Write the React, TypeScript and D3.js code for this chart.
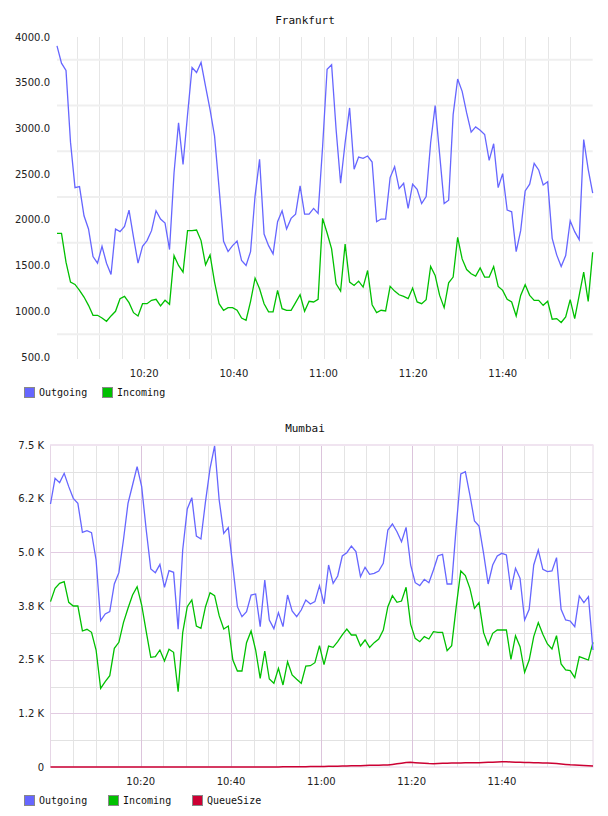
import React from 'react';
import * as d3 from 'd3';

const WIDTH = 608;
const HEIGHT = 816;

const outgoingColor = '#6666ff';
const incomingColor = '#00c000';
const queueColor = '#cc0033';

// labelled x ticks, shared by both panels
const timeLabels = ['10:20', '10:40', '11:00', '11:20', '11:40'];

// Frankfurt, one sample per minute
const frankfurtOutgoing = [
  3902, 3714, 3634, 2850, 2353, 2364, 2045, 1900, 1599, 1526,
  1711, 1526, 1403, 1900, 1871, 1929, 2107, 1809, 1526, 1711,
  1773, 1882, 2099, 2009, 1965, 1675, 2516, 3061, 2607, 3150,
  3667, 3612, 3721, 3460, 3206, 2916, 2350, 1765, 1653, 1718,
  1769, 1555, 1501, 1653, 2263, 2662, 1845, 1718, 1628, 1980,
  2099, 1900, 2016, 2063, 2371, 2063, 2063, 2125, 2070, 2800,
  3648, 3696, 2988, 2400, 2843, 3224, 2553, 2687, 2672, 2698,
  2633, 1980, 2009, 2009, 2462, 2582, 2342, 2400, 2125, 2390,
  2335, 2179, 2255, 2843, 3249, 2716, 2179, 2215, 3151, 3540,
  3405, 3170, 2959, 3017, 2981, 2934, 2651, 2832, 2353, 2506,
  2107, 2088, 1653, 1882, 2317, 2390, 2618, 2546, 2382, 2418,
  1798, 1617, 1490, 1610, 1990, 1871, 1784, 2879, 2553, 2292,
];
const frankfurtIncoming = [
  1853, 1853, 1537, 1319, 1294, 1229, 1156, 1065, 956, 956,
  927, 891, 949, 1000, 1138, 1163, 1094, 985, 949, 1083,
  1083, 1120, 1131, 1058, 1120, 1076, 1609, 1501, 1428, 1882,
  1882, 1889, 1773, 1508, 1617, 1319, 1083, 1011, 1040, 1040,
  1011, 927, 902, 1109, 1363, 1247, 1083, 993, 993, 1229,
  1029, 1011, 1011, 1094, 1181, 1000, 1109, 1102, 1131, 2016,
  1856, 1682, 1301, 1221, 1736, 1319, 1283, 1330, 1265, 1446,
  1072, 985, 1011, 1004, 1272, 1221, 1181, 1163, 1138, 1254,
  1102, 1083, 1127, 1490, 1392, 1174, 1040, 1312, 1374, 1809,
  1573, 1457, 1410, 1384, 1475, 1374, 1374, 1490, 1272, 1229,
  1131, 1102, 949, 1174, 1290, 1174, 1120, 1120, 1065, 1109,
  913, 920, 877, 938, 1127, 920, 1174, 1428, 1109, 1646,
];
const frankfurtTicks = [500, 1000, 1500, 2000, 2500, 3000, 3500, 4000];

// Mumbai
const mumbaiOutgoing = [
  6126, 6724, 6623, 6840, 6530, 6258, 6141, 5466, 5505, 5458,
  4822, 3409, 3564, 3618, 4262, 4526, 5287, 6141, 6568, 6995,
  6530, 5520, 4612, 4526, 4720, 4185, 4573, 4534, 3207, 5054,
  6009, 6273, 5380, 5311, 6180, 6957, 7477, 6219, 5443, 5575,
  4666, 3734, 3502, 3618, 4006, 4030, 3269, 4356, 3424, 3222,
  3595, 3269, 4006, 3634, 3502, 3657, 3890, 3797, 3851, 4224,
  3800, 4705, 4278, 4449, 4915, 4992, 5148, 5016, 4433, 4651,
  4488, 4511, 4565, 4744, 5520, 5660, 5481, 5248, 5582, 4705,
  4293, 4224, 4371, 4293, 4589, 4922, 4953, 4262, 4262, 5598,
  6825, 6879, 6335, 5730, 5613, 4977, 4262, 4705, 4915, 4977,
  4938, 4123, 4627, 4394, 3424, 3672, 4705, 5054, 4604, 4550,
  4565, 4876, 3672, 3424, 3401, 3269, 3983, 3828, 3967, 2725,
];
const mumbaiIncoming = [
  3851, 4161, 4278, 4317, 3835, 3750, 3750, 3168, 3207, 3137,
  2725, 1832, 1988, 2127, 2764, 2904, 3362, 3696, 4006, 4200,
  3773, 3152, 2554, 2570, 2725, 2469, 2741, 2671, 1755, 3129,
  3734, 3890, 3284, 3230, 3734, 4061, 3991, 3525, 3214, 3284,
  2492, 2236, 2236, 2896, 3168, 2725, 2065, 2702, 2050, 1949,
  2298, 1910, 2453, 2143, 2042, 1949, 2352, 2360, 2430, 2826,
  2385, 2818, 2787, 2919, 3075, 3214, 3075, 3075, 2818, 2958,
  2787, 2896, 2981, 3191, 3734, 3991, 3835, 3866, 4185, 3323,
  2997, 2919, 3036, 2981, 3152, 3137, 3137, 2710, 2826, 3734,
  4565, 4457, 4161, 3696, 3828, 3129, 2842, 3113, 3191, 3191,
  3191, 2508, 3059, 2803, 2205, 2492, 3036, 3362, 3090, 2865,
  2748, 3059, 2399, 2259, 2244, 2081, 2570, 2531, 2492, 2904,
];
const mumbaiQueueSize = [
  0, 0, 0, 0, 0, 0, 0, 0, 0, 0,
  0, 0, 0, 0, 0, 0, 0, 0, 0, 0,
  0, 0, 0, 0, 0, 0, 0, 0, 0, 0,
  0, 0, 0, 0, 0, 0, 0, 0, 0, 0,
  0, 0, 0, 0, 0, 0, 0, 0, 0, 0,
  2, 3, 3, 4, 5, 6, 8, 9, 10, 12,
  14, 16, 18, 20, 22, 25, 27, 30, 32, 35,
  38, 40, 42, 45, 47, 60, 75, 90, 102, 108,
  100, 92, 85, 80, 78, 82, 86, 90, 92, 93,
  95, 97, 98, 100, 101, 104, 108, 112, 118, 124,
  122, 118, 112, 108, 105, 102, 100, 98, 95, 92,
  88, 80, 70, 60, 52, 47, 40, 34, 28, 23,
];
const mumbaiTicks = [0, 1250, 2500, 3750, 5000, 6250, 7500];
const mumbaiTickLabels = ['0', '1.2 K', '2.5 K', '3.8 K', '5.0 K', '6.2 K', '7.5 K'];

const tickFont = '"DejaVu Sans", sans-serif';
const monoFont = '"DejaVu Sans Mono", monospace';

// samples arrive roughly once a minute
function sampleTimes(start: Date, stepSeconds: number, n: number) {
  return d3.range(n).map(i => new Date(start.getTime() + i * stepSeconds * 1000));
}

function labelTimes() {
  return timeLabels.map(t => {
    const [h, m] = t.split(':').map(Number);
    return { text: t, date: new Date(2020, 0, 1, h, m, 0) };
  });
}

function Legend({ y, items }: { y: number; items: { name: string; color: string; x: number }[] }) {
  return (
    <g>
      {items.map(it => (
        <g key={it.name}>
          <rect x={it.x + 0.5} y={y + 0.5} width={10} height={10} fill={it.color} stroke="#888" />
          <text x={it.x + 15} y={y + 9} fontFamily={monoFont} fontSize={10} fill="#111">{it.name}</text>
        </g>
      ))}
    </g>
  );
}

function Frankfurt() {
  const times = sampleTimes(new Date(2020, 0, 1, 10, 0, 32), 60.27, frankfurtOutgoing.length);
  const left = 57, right = 592.7, top = 37, bottom = 357;
  const x = d3.scaleTime().domain([times[0], times[times.length - 1]]).range([left, right]);
  const y = d3.scaleLinear().domain([500, 4000]).range([bottom, top]);
  const line = d3.line<number>().x((_, i) => x(times[i])).y(d => y(d));
  const halfTicks = frankfurtTicks.slice(0, -1).map(v => v + 250);
  const grid = x.ticks(d3.timeMinute.every(5)!).filter(t => x(t) < right - 1.5);
  const fmt = d3.format('.1f');

  return (
    <g>
      <text x={305} y={24} textAnchor="middle" fontFamily={monoFont} fontSize={11} fill="#111">Frankfurt</text>
      {grid.map(t => (
        <line key={+t} x1={Math.round(x(t)) + 0.5} x2={Math.round(x(t)) + 0.5} y1={top} y2={bottom + 2} stroke="#e6e6e6" />
      ))}
      {halfTicks.map(v => (
        <line key={v} x1={left} x2={right} y1={y(v)} y2={y(v)} stroke="#efefef" strokeWidth={2} />
      ))}
      {frankfurtTicks.map(v => (
        <text key={v} x={50} y={y(v)} dy="0.36em" textAnchor="end" fontFamily={tickFont} fontSize={10} fill="#222">{fmt(v)}</text>
      ))}
      {labelTimes().map(l => (
        <text key={l.text} x={x(l.date)} y={377} textAnchor="middle" fontFamily={tickFont} fontSize={10} fill="#222">{l.text}</text>
      ))}
      <path d={line(frankfurtIncoming) || ''} fill="none" stroke={incomingColor} strokeWidth={1.3} />
      <path d={line(frankfurtOutgoing) || ''} fill="none" stroke={outgoingColor} strokeWidth={1.3} />
      <Legend y={387} items={[
        { name: 'Outgoing', color: outgoingColor, x: 24 },
        { name: 'Incoming', color: incomingColor, x: 102 },
      ]} />
    </g>
  );
}

function Mumbai() {
  const times = sampleTimes(new Date(2020, 0, 1, 10, 0, 0), 60.6, mumbaiOutgoing.length);
  const left = 50.5, right = 593, top = 445, bottom = 767;
  const x = d3.scaleTime().domain([times[0], times[times.length - 1]]).range([left, right]);
  const y = d3.scaleLinear().domain([0, 7500]).range([bottom, top]);
  const line = d3.line<number>().x((_, i) => x(times[i])).y(d => y(d));
  const halfTicks = mumbaiTicks.slice(0, -1).map(v => v + 625);
  const minor = x.ticks(d3.timeMinute.every(5)!).filter(t => x(t) > left + 1 && x(t) < right - 1.5);
  const major = minor.filter(t => t.getMinutes() % 20 === 0);

  return (
    <g>
      <text x={305} y={432} textAnchor="middle" fontFamily={monoFont} fontSize={11} fill="#111">Mumbai</text>
      {minor.map(t => (
        <line key={+t} x1={Math.round(x(t)) + 0.5} x2={Math.round(x(t)) + 0.5} y1={top} y2={bottom} stroke="#e4e4e4" />
      ))}
      {halfTicks.map(v => (
        <line key={v} x1={left} x2={right} y1={Math.round(y(v)) + 0.5} y2={Math.round(y(v)) + 0.5} stroke="#e2e2e2" />
      ))}
      {major.map(t => (
        <line key={+t} x1={Math.round(x(t)) + 0.5} x2={Math.round(x(t)) + 0.5} y1={top} y2={bottom} stroke="#dcc4dc" />
      ))}
      {mumbaiTicks.slice(1, -1).map(v => (
        <line key={v} x1={left} x2={right} y1={Math.round(y(v)) + 0.5} y2={Math.round(y(v)) + 0.5} stroke="#e2cce2" />
      ))}
      <rect x={left} y={top} width={right - left} height={bottom - top} fill="none" stroke="#e6d6e6" />
      <line x1={left} x2={right} y1={top} y2={top} stroke="#f0e4f0" strokeWidth={2} />
      {mumbaiTicks.map((v, i) => (
        <text key={v} x={44} y={y(v)} dy="0.36em" textAnchor="end" fontFamily={tickFont} fontSize={10} fill="#222">{mumbaiTickLabels[i]}</text>
      ))}
      {labelTimes().map(l => (
        <text key={l.text} x={x(l.date)} y={785} textAnchor="middle" fontFamily={tickFont} fontSize={10} fill="#222">{l.text}</text>
      ))}
      <path d={line(mumbaiIncoming) || ''} fill="none" stroke={incomingColor} strokeWidth={1.3} />
      <path d={line(mumbaiOutgoing) || ''} fill="none" stroke={outgoingColor} strokeWidth={1.3} />
      <path d={line(mumbaiQueueSize) || ''} fill="none" stroke={queueColor} strokeWidth={1.5} />
      <Legend y={795} items={[
        { name: 'Outgoing', color: outgoingColor, x: 24 },
        { name: 'Incoming', color: incomingColor, x: 108 },
        { name: 'QueueSize', color: queueColor, x: 192 },
      ]} />
    </g>
  );
}

export default function App() {
  return (
    <div style={{ position: 'absolute', left: 0, top: 0 }}>
      <svg width={WIDTH} height={HEIGHT} style={{ display: 'block', background: '#fff' }}>
        <Frankfurt />
        <Mumbai />
      </svg>
    </div>
  );
}
